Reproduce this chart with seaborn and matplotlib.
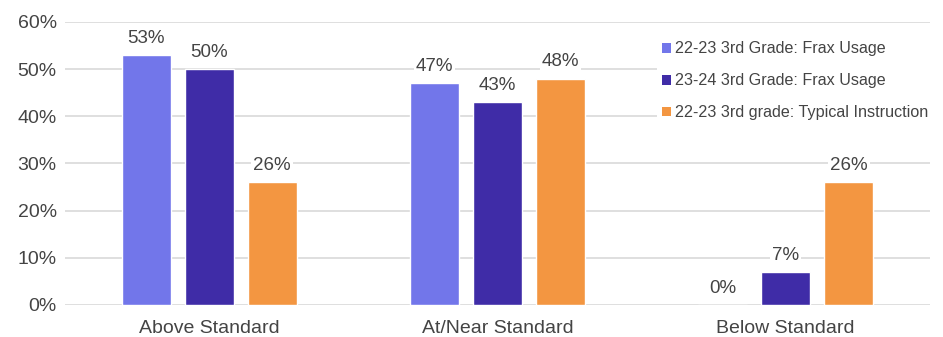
import pandas as pd
import seaborn as sns
import matplotlib.pyplot as plt
from matplotlib.patches import Patch
from matplotlib.ticker import PercentFormatter

categories = ["Above Standard", "At/Near Standard", "Below Standard"]
series_names = [
    "22-23 3rd Grade: Frax Usage",
    "23-24 3rd Grade: Frax Usage",
    "22-23 3rd grade: Typical Instruction",
]
frax_2223 = [53, 47, 0]
frax_2324 = [50, 43, 7]
typical_2223 = [26, 48, 26]
colors = ["#7276EA", "#3F2CA7", "#F39641"]

rows = []
for name, vals in zip(series_names, [frax_2223, frax_2324, typical_2223]):
    for cat, v in zip(categories, vals):
        rows.append({"Category": cat, "Series": name, "Value": v})
df = pd.DataFrame(rows)

sns.set_style("white")
plt.rcParams['font.family'] = ['Liberation Sans', 'DejaVu Sans']
text_color = "#444444"

fig = plt.figure(figsize=(9.43, 3.37), dpi=100)
ax = fig.add_axes([0.069, 0.095, 0.917, 0.84])

sns.barplot(data=df, x="Category", y="Value", hue="Series", order=categories,
            hue_order=series_names, palette=colors, width=0.656, gap=0.22,
            saturation=1, legend=False, ax=ax, zorder=3)

for cont in ax.containers:
    ax.bar_label(cont, labels=[f"{int(round(b.get_height()))}%" for b in cont],
                 padding=6, fontsize=13.5, color=text_color,
                 bbox=dict(facecolor="white", edgecolor="none", pad=1.5))

ax.set_ylim(0, 60)
ax.set_yticks(range(0, 61, 10))
ax.yaxis.set_major_formatter(PercentFormatter(decimals=0))
ax.set_xlim(-0.5, 2.5)
ax.grid(axis="y", color="#d9d9d9", linewidth=1.2, zorder=0)
ax.set_axisbelow(True)
sns.despine(ax=ax, left=True, bottom=True)
ax.set_xlabel("")
ax.set_ylabel("")
ax.tick_params(axis="both", length=0, labelsize=14, colors=text_color)
ax.tick_params(axis="x", pad=11)
ax.tick_params(axis="y", pad=6)

handles = [Patch(facecolor=c, edgecolor="none") for c in colors]
leg = ax.legend(handles, series_names, loc="upper left", bbox_to_anchor=(0.685, 0.948),
                frameon=True, facecolor="white", edgecolor="none", framealpha=1,
                fontsize=11.6, handlelength=0.55, handleheight=0.55, handletextpad=0.25,
                labelspacing=1.05, borderaxespad=0, borderpad=0.3)
for t in leg.get_texts():
    t.set_color(text_color)

fig.savefig("out.png", dpi=100)
